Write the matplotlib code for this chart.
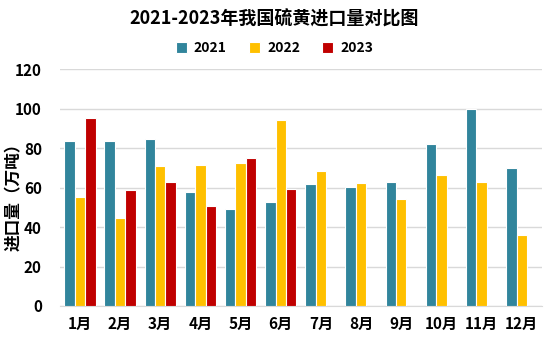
import numpy as np
import matplotlib
matplotlib.use('Agg')
import matplotlib.pyplot as plt

plt.rcParams['font.family'] = ['Noto Sans CJK SC', 'DejaVu Sans']

# 数据（单位：万吨）
months = ['1月', '2月', '3月', '4月', '5月', '6月', '7月', '8月', '9月', '10月', '11月', '12月']
y2021 = [83.7, 83.7, 84.7, 57.8, 49.2, 52.7, 61.9, 60.3, 62.9, 82.1, 99.9, 70.0]
y2022 = [55.3, 44.6, 71.0, 71.5, 72.5, 94.3, 68.4, 62.4, 54.3, 66.4, 62.9, 36.0]
y2023 = [95.3, 58.8, 62.9, 50.7, 75.0, 59.3, np.nan, np.nan, np.nan, np.nan, np.nan, np.nan]

colors = ['#31859C', '#FFC000', '#C00000']

fig = plt.figure(figsize=(5.49, 3.40), dpi=100)
ax = fig.add_axes([0.109, 0.10, 0.878, 0.696])

x = np.arange(len(months))
w = 0.26
for i, (vals, lab) in enumerate(zip([y2021, y2022, y2023], ['2021', '2022', '2023'])):
    ax.bar(x + (i - 1) * w, vals, width=w, color=colors[i], edgecolor='white',
           linewidth=0.8, label=lab, zorder=3)

ax.set_xlim(-0.5, len(months) - 0.5)
ax.set_ylim(0, 120)
ax.set_yticks(range(0, 121, 20))
ax.set_xticks(x)
ax.set_xticklabels(months, fontsize=11, fontweight='bold')
for t in ax.get_yticklabels():
    t.set_fontsize(11)
    t.set_fontweight('bold')
ax.tick_params(axis='x', length=0, pad=7)
ax.tick_params(axis='y', length=0, pad=13)
ax.grid(axis='y', color='#D9D9D9', linewidth=1, zorder=0)
for s in ['top', 'right', 'left']:
    ax.spines[s].set_visible(False)
ax.spines['bottom'].set_color('#D9D9D9')
ax.set_ylabel('进口量（万吨）', fontsize=12, fontweight='bold')
ax.yaxis.set_label_coords(-0.077, 0.48)

fig.text(0.5, 0.945, '2021-2023年我国硫黄进口量对比图', ha='center', va='center',
         fontsize=13, fontweight='bold')
fig.legend(loc='center', bbox_to_anchor=(0.5, 0.858), ncol=3, frameon=False,
           prop={'size': 10, 'weight': 'bold'}, handlelength=0.8, handleheight=0.8,
           columnspacing=1.6, handletextpad=0.5)

fig.savefig('out.png', dpi=100)
